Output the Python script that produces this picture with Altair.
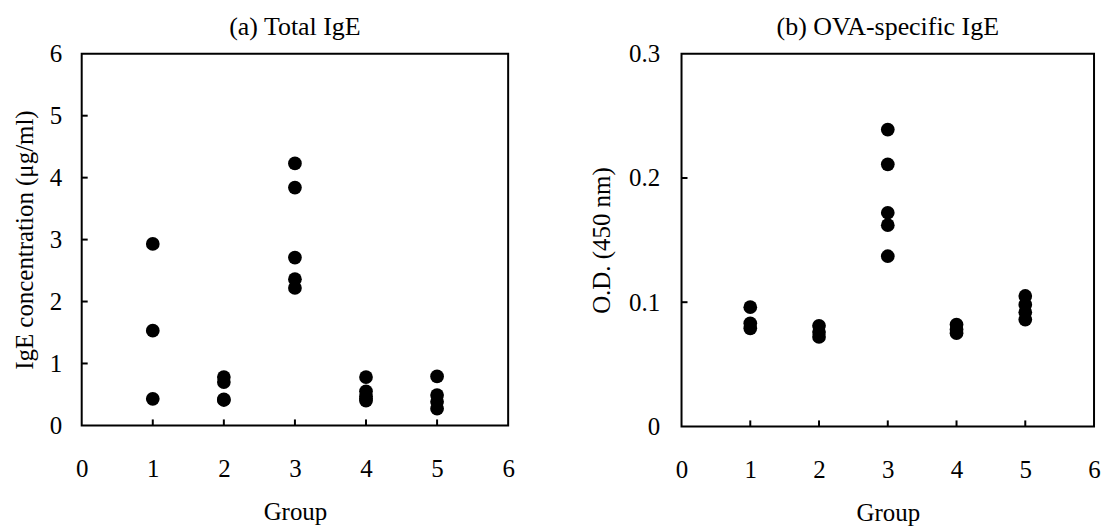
import altair as alt
import pandas as pd

FONT = "Liberation Serif"

# (a) Total IgE
total_group = [1, 1, 1, 2, 2, 2, 2, 3, 3, 3, 3, 3, 4, 4, 4, 4, 4, 5, 5, 5, 5]
total_ige = [2.93, 1.53, 0.43,
             0.78, 0.70, 0.42, 0.41,
             4.23, 3.84, 2.71, 2.36, 2.22,
             0.78, 0.55, 0.47, 0.43, 0.40,
             0.79, 0.49, 0.38, 0.27]

# (b) OVA-specific IgE
ova_group = [1, 1, 1, 2, 2, 2, 3, 3, 3, 3, 3, 4, 4, 4, 5, 5, 5, 5]
ova_od = [0.096, 0.083, 0.079,
          0.081, 0.076, 0.072,
          0.239, 0.211, 0.172, 0.162, 0.137,
          0.082, 0.078, 0.075,
          0.105, 0.098, 0.092, 0.086]

x_ticks = [0, 1, 2, 3, 4, 5, 6]
x_inner_ticks = [1, 2, 3, 4, 5]
y_ticks_a = [0, 1, 2, 3, 4, 5, 6]
y_inner_ticks_a = [1, 2, 3, 4, 5]
y_ticks_b = [0, 0.1, 0.2, 0.3]
y_inner_ticks_b = [0.1, 0.2]

df_a = pd.DataFrame({"Group": total_group, "value": total_ige})
df_b = pd.DataFrame({"Group": ova_group, "value": ova_od})


def panel(df, title, ytitle, ydomain, yvalues, yinner, w, h, ylabpad, ytitlepad):
    xs = alt.Scale(domain=[0, 6], nice=False, zero=False)
    ys = alt.Scale(domain=ydomain, nice=False, zero=False)
    xaxis = alt.Axis(values=x_ticks, title="Group", labelPadding=31, titlePadding=18,
                     domain=False, ticks=False, grid=False, labelFlush=False)
    yaxis = alt.Axis(values=yvalues, title=ytitle, format="~g", labelPadding=ylabpad,
                     titlePadding=ytitlepad, domain=False, ticks=False, grid=False,
                     labelFlush=False)
    pts = alt.Chart(df).mark_circle(size=190, color="black", opacity=1).encode(
        x=alt.X("Group:Q", scale=xs, axis=xaxis),
        y=alt.Y("value:Q", scale=ys, axis=yaxis),
    )
    xt = alt.Chart(pd.DataFrame({"Group": x_inner_ticks})).mark_rule(
        color="black", strokeWidth=2).encode(
        x=alt.X("Group:Q", scale=xs, axis=xaxis),
        y=alt.value(h), y2=alt.value(h - 6))
    yt = alt.Chart(pd.DataFrame({"value": yinner})).mark_rule(
        color="black", strokeWidth=2).encode(
        y=alt.Y("value:Q", scale=ys, axis=yaxis),
        x=alt.value(0), x2=alt.value(6))
    return alt.layer(pts, xt, yt).properties(
        width=w, height=h,
        title=alt.TitleParams(title, font=FONT, fontSize=26, fontWeight="normal",
                              color="black", offset=2),
    )


left = panel(df_a, "(a) Total IgE", "IgE concentration (μg/ml)", [0, 6],
             y_ticks_a, y_inner_ticks_a, 428, 373, 20, 12)
right = panel(df_b, "(b) OVA-specific IgE", "O.D. (450 nm)", [0, 0.3],
              y_ticks_b, y_inner_ticks_b, 414, 374, 22, 14)

chart = alt.hconcat(left, right, spacing=72).properties(
    padding={"left": 11, "top": 12, "right": 0, "bottom": 0},
    background="white",
).configure_view(stroke="black", strokeWidth=2).configure_axis(
    labelFont=FONT, labelFontSize=25, labelColor="black",
    titleFont=FONT, titleFontSize=25, titleFontWeight="normal", titleColor="black",
).configure_title(font=FONT)

chart.save("out.html", embed_options={"renderer": "svg", "actions": False})
